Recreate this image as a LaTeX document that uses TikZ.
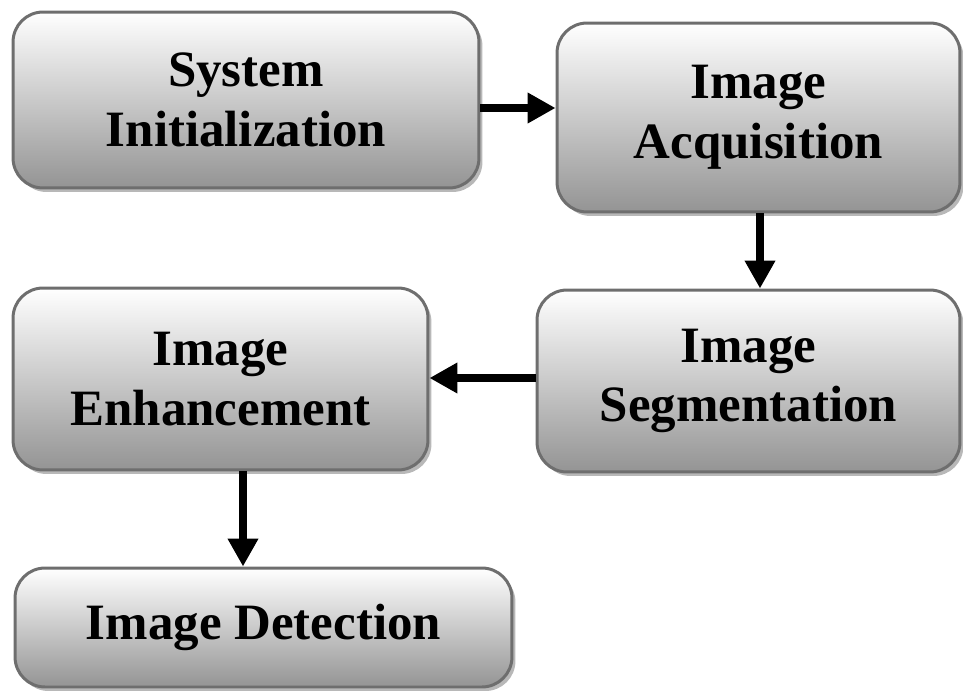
\documentclass[tikz,border=0pt]{standalone}
\usepackage{fontspec}
\setmainfont{Liberation Serif}
\usepackage{tikz}
\usetikzlibrary{
        arrows.meta,
        shadows,
        positioning
    }
\tikzset{>={Triangle[length=0.56cm,width=0.58cm]},auto}
\tikzset{stage/.style={draw=black!57,line width=1.7pt,rounded corners=0.6cm,
        top color=white,bottom color=black!42,align=center,
        font=\fontsize{29}{34}\selectfont\bfseries,
        drop shadow={shadow xshift=0.07cm,shadow yshift=-0.08cm,fill=black!28,opacity=1}}}
\tikzset{flow/.style={->,line width=4.6pt,black}}

\begin{document}
\begin{tikzpicture}[x=0.02cm,y=-0.02cm]
                \useasboundingbox (0,0) rectangle (963,690);
                \node [stage,minimum width=9.32cm,minimum height=3.52cm] (init) at (246,100) {System\\Initialization};
                \node [stage,minimum width=8.06cm,minimum height=3.78cm] (acq) at (758.5,117.5) {Image\\Acquisition};
                \node [stage,minimum width=8.46cm,minimum height=3.64cm] (seg) at (748.5,381) {Image\\Segmentation};
                \node [stage,minimum width=8.3cm,minimum height=3.64cm] (enh) at (220.5,379) {Image\\Enhancement};
                \node [stage,minimum width=9.94cm,minimum height=2.38cm] (det) at (263.5,627.5) {Image Detection};
                \draw [flow] (init.east |- 0,108) -- (acq.west |- 0,108);
                \draw [flow] (acq.south -| 760,0) -- (seg.north -| 760,0);
                \draw [flow] (seg.west |- 0,378) -- (enh.east |- 0,378);
                \draw [flow] (enh.south -| 243,0) -- (det.north -| 243,0);
            \end{tikzpicture}
\end{document}
